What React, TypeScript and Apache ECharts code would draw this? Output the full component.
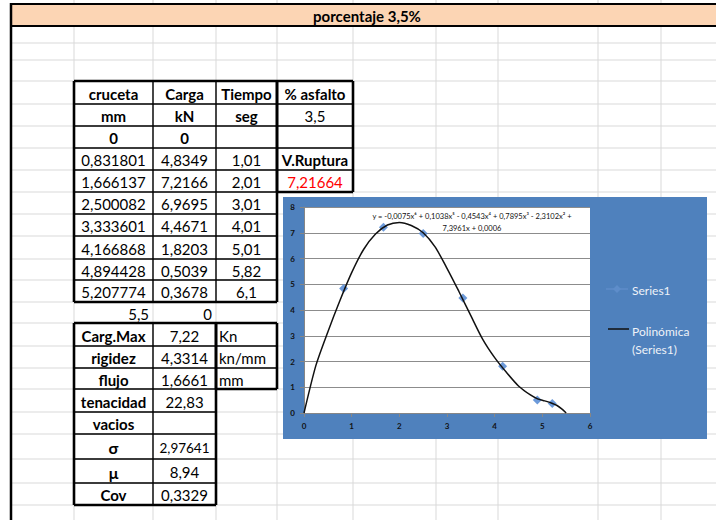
import React, { useEffect, useRef } from "react";
import * as echarts from "echarts";

// Ensayo Marshall: cruceta (mm) vs carga (kN)
const crucetaMm = [0, 0.831801, 1.666137, 2.500082, 3.333601, 4.166868, 4.894428, 5.207774, 5.5];
const cargaKn = [0, 4.8349, 7.2166, 6.9695, 4.4671, 1.8203, 0.5039, 0.3678, 0];
const tiempoSeg = [1.01, 2.01, 3.01, 4.01, 5.01, 5.82, 6.1];
const asfaltoPct = 3.5;
const vRuptura = 7.21664;

const summaryLabels = ["Carg.Max", "rigidez", "flujo", "tenacidad", "vacios", "σ", "μ", "Cov"];
const summaryValues = ["7,22", "4,3314", "1,6661", "22,83", "", "2,97641", "8,94", "0,3329"];
const summaryUnits = ["Kn", "kn/mm", "mm"];

// Polynomial trendline, sampled along the fitted curve
const trendX = [0, 0.25, 0.5, 0.75, 1.0, 1.25, 1.5, 1.75, 2.0, 2.25, 2.5, 2.75, 3.0, 3.25, 3.5, 3.75, 4.0, 4.25, 4.5, 4.75, 4.9, 5.05, 5.2, 5.3, 5.4, 5.5];
const trendY = [0, 1.85, 3.15, 4.35, 5.45, 6.35, 6.95, 7.3, 7.4, 7.28, 7.0, 6.45, 5.62, 4.72, 3.78, 2.86, 2.15, 1.57, 1.05, 0.7, 0.55, 0.47, 0.38, 0.3, 0.17, 0];

const trendLabel1 = "y = -0,0075x⁶ + 0,1038x⁵ - 0,4543x⁴ + 0,7895x³ - 2,3102x² +";
const trendLabel2 = "7,3961x + 0,0006";

const FONT = "Lato, 'Open Sans', sans-serif";

const fmt = (v: number) => String(v).replace(".", ",");

// spreadsheet grid
const COLS = [74, 153, 216, 277, 353, 436, 498, 598, 661];
const ROWS = [26, 43, 60, 81, 104, 126, 148, 170, 192, 214, 236, 259, 280, 302, 323, 346, 368, 389, 412, 434, 459, 483, 505, 527];

function buildSheet(): any[] {
  const els: any[] = [];
  const line = (x1: number, y1: number, x2: number, y2: number, stroke: string, w: number, z: number) =>
    els.push({ type: "line", silent: true, z, shape: { x1, y1, x2, y2 }, style: { stroke, lineWidth: w } });
  const text = (t: string, x: number, y: number, o: any = {}) =>
    els.push({
      type: "text",
      silent: true,
      z: o.z ?? 3,
      x,
      y,
      style: {
        text: t,
        fill: o.color ?? "#000",
        font: `${o.bold ? "bold " : ""}${o.size ?? 15}px ${FONT}`,
        textAlign: o.align ?? "center",
        textVerticalAlign: "middle",
        align: o.align ?? "center",
        verticalAlign: "middle",
      },
    });

  // light gridlines
  const grid = "#d9d9d9";
  COLS.forEach((c) => {
    line(c, 0, c, 4, grid, 1, 1);
    line(c, 26, c, 520, grid, 1, 1);
  });
  ROWS.forEach((r) => line(11, r, 716, r, grid, 1, 1));

  // title band
  els.push({ type: "rect", silent: true, z: 1, shape: { x: 11, y: 4, width: 705, height: 22 }, style: { fill: "#fcd5b4" } });
  line(11, 4, 716, 4, "#000", 2, 2);
  line(11, 26, 716, 26, "#000", 2, 2);
  line(11, 3, 11, 520, "#000", 2.5, 2);
  text("porcentaje 3,5%", 367, 16, { bold: true, size: 15 });

  // bordered blocks
  const block = (cols: number[], rows: number[]) => {
    rows.forEach((r) => line(cols[0], r, cols[cols.length - 1], r, "#000", 1.4, 2));
    cols.forEach((c) => line(c, rows[0], c, rows[rows.length - 1], "#000", 1.4, 2));
    const x0 = cols[0], x1 = cols[cols.length - 1], y0 = rows[0], y1 = rows[rows.length - 1];
    line(x0, y0, x1, y0, "#000", 2.6, 2);
    line(x0, y1, x1, y1, "#000", 2.6, 2);
    line(x0, y0, x0, y1, "#000", 2.6, 2);
    line(x1, y0, x1, y1, "#000", 2.6, 2);
  };
  block([74, 153, 216, 277], [81, 104, 126, 148, 170, 192, 214, 236, 259, 280, 302]);
  block([277, 353], [81, 104, 126, 148, 170, 192]);
  block([74, 153, 216], [323, 346, 368, 389, 412, 434, 459, 483, 505]);
  block([216, 277], [323, 346, 368, 389]);

  const cx = [113.5, 184.5, 246.5, 315];
  const mid = (i: number, j: number) => (i + j) / 2 + 1;

  // header rows
  ["cruceta", "Carga", "Tiempo", "% asfalto"].forEach((t, i) => text(t, cx[i], mid(81, 104), { bold: true }));
  ["mm", "kN", "seg"].forEach((t, i) => text(t, cx[i], mid(104, 126), { bold: true }));
  text(fmt(asfaltoPct), cx[3], mid(104, 126));
  text(fmt(crucetaMm[0]), cx[0], mid(126, 148), { bold: true });
  text(fmt(cargaKn[0]), cx[1], mid(126, 148), { bold: true });
  text("V.Ruptura", cx[3], mid(148, 170), { bold: true });
  text(fmt(vRuptura), cx[3], mid(170, 192), { color: "#ff0000" });

  const dataRows = [148, 170, 192, 214, 236, 259, 280, 302];
  for (let k = 0; k < 7; k++) {
    const y = mid(dataRows[k], dataRows[k + 1]);
    text(fmt(crucetaMm[k + 1]), cx[0], y);
    text(fmt(cargaKn[k + 1]), cx[1], y);
    text(fmt(tiempoSeg[k]), cx[2], y);
  }
  text(fmt(crucetaMm[8]), 149, mid(302, 323), { align: "right" });
  text(fmt(cargaKn[8]), 212, mid(302, 323), { align: "right" });

  const sumRows = [323, 346, 368, 389, 412, 434, 459, 483, 505];
  summaryLabels.forEach((t, k) => {
    const y = mid(sumRows[k], sumRows[k + 1]);
    text(t, cx[0], y, { bold: true, size: t === "σ" || t === "μ" ? 16 : 15 });
    text(summaryValues[k], cx[1], y, { size: summaryValues[k].length > 6 ? 13.5 : 15 });
    if (k < summaryUnits.length) text(summaryUnits[k], 219, y, { align: "left" });
  });

  // chart area
  els.push({ type: "rect", silent: true, z: 4, shape: { x: 283, y: 197, width: 424, height: 242 }, style: { fill: "#4f81bd" } });
  els.push({ type: "rect", silent: true, z: 5, shape: { x: 304, y: 207, width: 286, height: 206 }, style: { fill: "#ffffff" } });

  // trendline equation
  text(trendLabel1, 472, 216, { size: 7.5, z: 20, color: "#111" });
  text(trendLabel2, 472, 228, { size: 7.5, z: 20, color: "#111" });

  // legend
  line(606, 289, 628, 289, "#5e8dca", 1.5, 20);
  els.push({ type: "polygon", silent: true, z: 20, shape: { points: [[617, 285], [621, 289], [617, 293], [613, 289]] }, style: { fill: "#5e8dca" } });
  text("Series1", 632, 290, { align: "left", size: 12, color: "#eef2f8", z: 20 });
  line(608, 329, 629, 329, "#111", 1.5, 20);
  text("Polinómica", 632, 331, { align: "left", size: 12, color: "#eef2f8", z: 20 });
  text("(Series1)", 632, 349, { align: "left", size: 12, color: "#eef2f8", z: 20 });

  return els;
}

export default function App() {
  const ref = useRef<HTMLDivElement>(null);

  useEffect(() => {
    if (!ref.current) return;
    const chart = echarts.init(ref.current, null, { renderer: "svg", width: 716, height: 520 });
    const points = crucetaMm.slice(1, 8).map((x, i) => [x, cargaKn[i + 1]]);
    const trend = trendX.map((x, i) => [x, trendY[i]]);
    const axisLabel = { color: "#111", fontSize: 8, fontWeight: "bold" as const, fontFamily: FONT, margin: 9 };

    chart.setOption({
      animation: false,
      backgroundColor: "#ffffff",
      textStyle: { fontFamily: FONT },
      grid: { left: 304, top: 207, width: 286, height: 206 },
      xAxis: {
        type: "value",
        min: 0,
        max: 6,
        interval: 1,
        z: 10,
        axisLine: { show: true, onZero: false, lineStyle: { color: "#868686", width: 1 } },
        axisTick: { show: true, length: 4, lineStyle: { color: "#868686" } },
        axisLabel,
        splitLine: { show: false },
      },
      yAxis: {
        type: "value",
        min: 0,
        max: 8,
        interval: 1,
        z: 10,
        axisLine: { show: true, lineStyle: { color: "#868686", width: 1 } },
        axisTick: { show: true, length: 4, lineStyle: { color: "#868686" } },
        axisLabel,
        splitLine: { show: true, lineStyle: { color: "#8c8c8c", width: 1 } },
      },
      series: [
        {
          name: "Series1",
          type: "scatter",
          data: points,
          symbol: "diamond",
          symbolSize: 9,
          itemStyle: { color: "#5c8fd6", opacity: 0.9 },
          z: 12,
        },
        {
          name: "Polinómica (Series1)",
          type: "line",
          data: trend,
          smooth: 0.25,
          showSymbol: false,
          symbol: "none",
          lineStyle: { color: "#111111", width: 1.5 },
          z: 13,
        },
      ],
      graphic: { elements: buildSheet() },
    });

    return () => chart.dispose();
  }, []);

  return (
    <div
      ref={ref}
      style={{ position: "fixed", left: 0, top: 0, width: 716, height: 520, background: "#fff" }}
    />
  );
}
